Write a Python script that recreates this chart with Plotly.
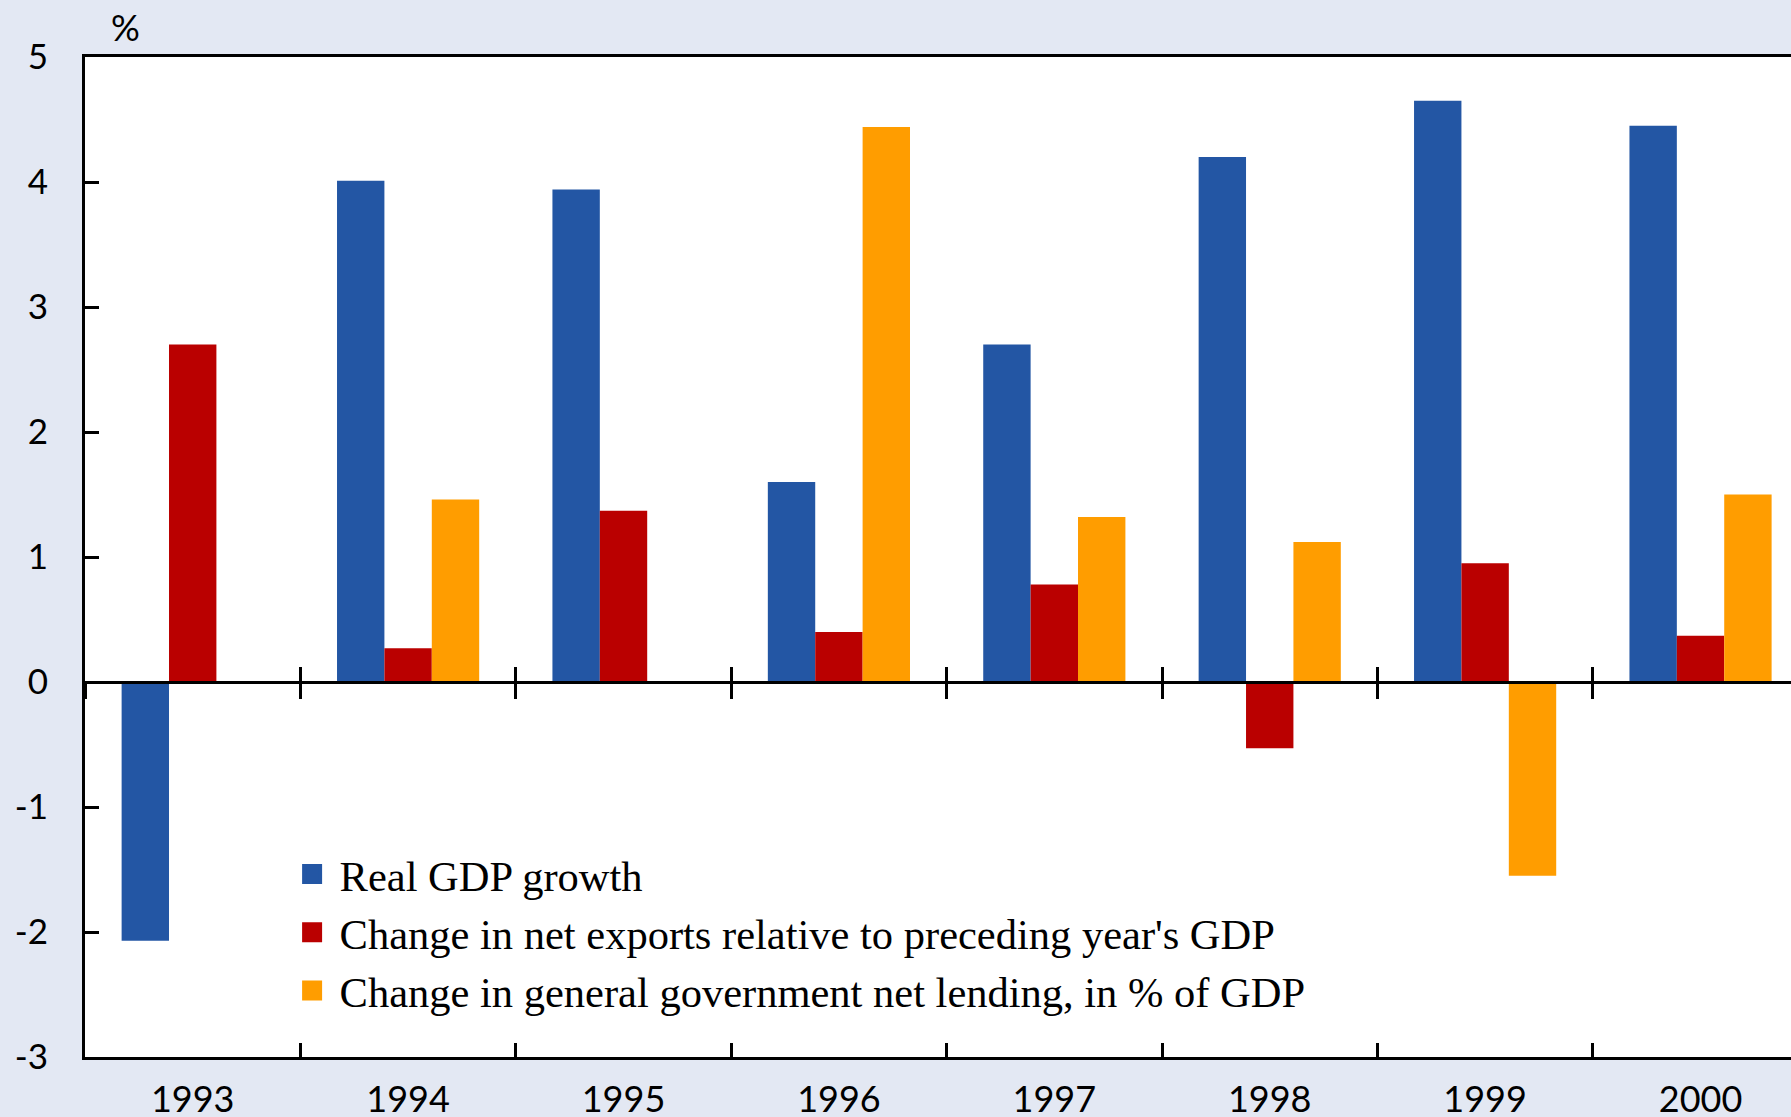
import plotly.graph_objects as go

years = ["1993", "1994", "1995", "1996", "1997", "1998", "1999", "2000"]
gdp_growth = [-2.07, 4.01, 3.94, 1.60, 2.70, 4.20, 4.65, 4.45]
net_exports = [2.70, 0.27, 1.37, 0.40, 0.78, -0.53, 0.95, 0.37]
gov_lending = [None, 1.46, None, 4.44, 1.32, 1.12, -1.55, 1.50]

names = [
    "Real GDP growth",
    "Change in net exports relative to preceding year's GDP",
    "Change in general government net lending, in % of GDP",
]
colors = ["#2356A4", "#BA0000", "#FF9D00"]
series = [gdp_growth, net_exports, gov_lending]

y_ticks = [-3, -2, -1, 0, 1, 2, 3, 4, 5]
y_tick_text = [str(v) for v in y_ticks]

Y_MIN, Y_MAX = -3, 5
X_RANGE = [-0.5, 7.42]
BG = "#E3E8F3"

fig = go.Figure()
for name, vals, col in zip(names, series, colors):
    fig.add_trace(go.Bar(x=years, y=vals, name=name, marker=dict(color=col, line=dict(width=0)),
                         showlegend=False))
# legend entries with larger square swatches
for i, (name, col) in enumerate(zip(names, colors)):
    fig.add_trace(go.Scatter(x=[years[0]], y=[None], mode="markers", name=name,
                             legendgroup=f"g{i}",
                             marker=dict(symbol="square", size=16, color=col,
                                         line=dict(color=col, width=4))))
# dummy traces for zero-crossing tick axes
for ax in ["x2", "x3"]:
    fig.add_trace(go.Scatter(x=years, y=[None] * len(years), xaxis=ax, mode="markers",
                             showlegend=False, hoverinfo="skip"))

zero_pos = (0 - Y_MIN) / (Y_MAX - Y_MIN)

common_x = dict(type="category", categoryorder="array", categoryarray=years,
                range=X_RANGE, tickson="boundaries", fixedrange=True, automargin=False)

fig.update_layout(
    width=1791, height=1117,
    paper_bgcolor=BG, plot_bgcolor="white",
    margin=dict(l=85, r=0, t=57, b=60, autoexpand=False),
    barmode="group", bargap=0.34, bargroupgap=0,
    font=dict(family="Lato", size=36, color="black"),
    xaxis=dict(**common_x, showline=True, linecolor="black", linewidth=3, mirror=True,
               ticks="inside", ticklen=14, tickwidth=3, tickcolor="black",
               showgrid=False, zeroline=False, ticklabelstandoff=9,
               tickfont=dict(family="Lato", size=36)),
    xaxis2=dict(**common_x, overlaying="x", anchor="free", position=zero_pos,
                showline=True, linecolor="black", linewidth=3,
                ticks="outside", ticklen=15, tickwidth=3, tickcolor="black",
                showticklabels=False, showgrid=False, zeroline=False, matches="x"),
    xaxis3=dict(**common_x, overlaying="x", anchor="free", position=zero_pos,
                showline=False,
                ticks="inside", ticklen=15, tickwidth=3, tickcolor="black",
                showticklabels=False, showgrid=False, zeroline=False, matches="x"),
    yaxis=dict(range=[Y_MIN, Y_MAX], tickmode="array", tickvals=y_ticks, ticktext=y_tick_text,
               showline=True, linecolor="black", automargin=False,
               linewidth=3, ticks="inside", ticklen=14, tickwidth=3, tickcolor="black",
               showgrid=False, zeroline=False, ticklabelstandoff=27,
               tickfont=dict(family="Lato", size=35), fixedrange=True),
    legend=dict(x=0.117, y=0.2172, xanchor="left", yanchor="top", itemwidth=45,
                bgcolor="rgba(0,0,0,0)", tracegroupgap=0,
                font=dict(family="Liberation Serif", size=42.5, color="black")),
    annotations=[dict(text="%", xref="paper", yref="paper", x=0.024, y=1.03,
                      xanchor="center", yanchor="middle", showarrow=False,
                      font=dict(family="Lato", size=36))],
)

fig.write_html("out.html", config={"displayModeBar": False},
               post_script="document.body.style.margin='0';document.body.style.overflow='hidden';")
